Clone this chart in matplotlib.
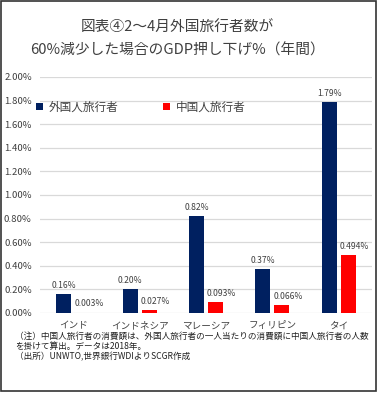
import matplotlib
matplotlib.use("Agg")
import matplotlib.pyplot as plt
from matplotlib.patches import Rectangle
from matplotlib.ticker import FuncFormatter, MultipleLocator
import numpy as np

plt.rcParams['font.family'] = ['Noto Sans CJK JP', 'DejaVu Sans']

categories = ["インド", "インドネシア", "マレーシア", "フィリピン", "タイ"]
foreign = [0.16, 0.20, 0.82, 0.37, 1.79]
chinese = [0.003, 0.027, 0.093, 0.066, 0.494]
foreign_labels = ["0.16%", "0.20%", "0.82%", "0.37%", "1.79%"]
chinese_labels = ["0.003%", "0.027%", "0.093%", "0.066%", "0.494%"]
series_names = ["外国人旅行者", "中国人旅行者"]
title = "図表④2～4月外国旅行者数が\n60%減少した場合のGDP押し下げ%（年間）"
notes = ["（注）中国人旅行者の消費額は、外国人旅行者の一人当たりの消費額に中国人旅行者の人数",
         "を掛けて算出。データは2018年。",
         "（出所）UNWTO,世界銀行WDIよりSCGR作成"]

txt = "#404040"
fig = plt.figure(figsize=(3.78, 3.93), dpi=100)
ax = fig.add_axes([0.106, 0.2036, 0.878, 0.6005])

x = np.arange(len(categories))
w = 0.226
off = 0.143
b1 = ax.bar(x - off, foreign, w, color="#002060", label=series_names[0], zorder=3)
b2 = ax.bar(x + off, chinese, w, color="#FF0000", label=series_names[1], zorder=3)

for bars, labs, dx in ((b1, foreign_labels, 0), (b2, chinese_labels, 4.5)):
    for r, l in zip(bars, labs):
        ax.annotate(l, (r.get_x() + r.get_width() / 2, r.get_height()),
                    xytext=(dx, 3), textcoords="offset points", ha="center", va="bottom",
                    fontsize=6.2, color=txt)

ax.set_ylim(0, 2.0)
ax.set_xlim(-0.5, len(categories) - 0.5)
ax.yaxis.set_major_locator(MultipleLocator(0.2))
ax.yaxis.set_major_formatter(FuncFormatter(lambda v, p: f"{v:.2f}%"))
ax.grid(axis="y", color="#d9d9d9", linewidth=0.9, zorder=0)
ax.set_xticks(x)
ax.set_xticklabels(categories)
for s in ax.spines.values():
    s.set_visible(False)
ax.tick_params(axis="both", length=0, colors=txt, labelsize=6.9)
ax.tick_params(axis="y", pad=6)
ax.tick_params(axis="x", pad=6)

leg = ax.legend(loc="upper left", bbox_to_anchor=(-0.045, 0.945), ncol=2, frameon=False,
                fontsize=8.4, handlelength=0.6, handleheight=0.6, handletextpad=0.5,
                columnspacing=3.8, labelcolor=txt)

fig.text(0.47, 0.902, title, ha="center", va="center", fontsize=10.6, color=txt,
         linespacing=1.85)

ys = [0.145, 0.119, 0.093]
for t, yy in zip(notes, ys):
    fig.text(0.040, yy, t, ha="left", va="center", fontsize=6.2, color="#202020")

fig.patches.append(Rectangle((0.002, 0.004), 0.994, 0.994, transform=fig.transFigure,
                             fill=False, edgecolor="#333333", linewidth=1.2))

fig.savefig("out.png", dpi=100)
